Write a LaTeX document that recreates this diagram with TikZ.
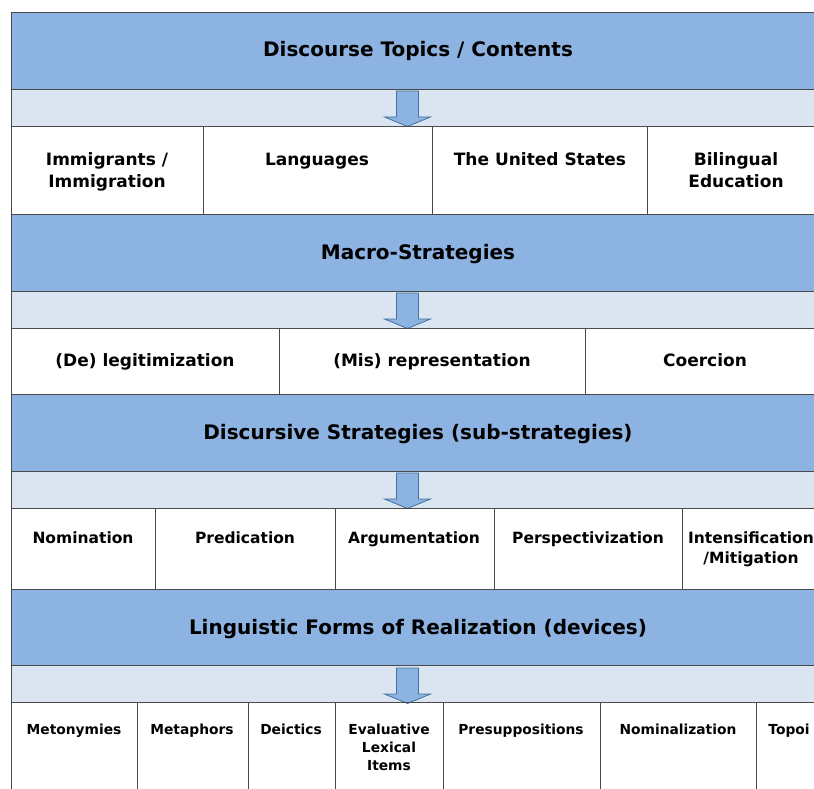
\documentclass[tikz,border=0pt]{standalone}
\usepackage{fontspec}
\setmainfont{DejaVu Sans}
\usepackage{xcolor}

\definecolor{bandblue}{HTML}{8DB3E2}
\definecolor{paleblue}{HTML}{DBE5F1}
\definecolor{rulegray}{HTML}{4A4A4A}
\definecolor{arrowedge}{HTML}{41719C}

\tikzset{
  rule/.style={draw=rulegray, line width=0.8pt},
  head/.style={font=\bfseries\fontsize{20}{24}\selectfont, anchor=base, inner sep=0pt},
  cell/.style={font=\bfseries\fontsize{17}{22}\selectfont, align=center, anchor=north,
    inner sep=0pt},
  blockarrow/.pic={
    \draw[arrowedge, fill=bandblue, line width=0.8pt, line join=miter]
      (-11,2) -- (11,2) -- (11,28) -- (23,28) -- (0,37.5) -- (-23,28) -- (-11,28) -- cycle;
  },
}

\begin{document}
\begin{tikzpicture}[x=1pt,y=-1pt]
  \useasboundingbox (0,0) rectangle (814,789);
  \clip (0,0) rectangle (814,789);

  % the four stages: blue band, pale gap with its arrow
  \foreach \t/\title [count=\i] in {12/{Discourse Topics / Contents},
      214/Macro-Strategies, 394/{Discursive Strategies (sub-strategies)},
      589/{Linguistic Forms of Realization (devices)}}{
    \fill[bandblue] (11,\t) rectangle (825,{\t+77});
    \fill[paleblue] (11,{\t+77}) rectangle (825,{\t+114});
    \node[head] (stage\i) at (418,{\t+45}) {\title};
    \pic at (407.5,{\t+77}) {blockarrow};
  }

  % horizontal rules and left edge
  \foreach \y in {12,89,126,214,291,328,394,471,508,589,665,702}
    \draw[rule] (11,\y) -- (825,\y);
  \draw[rule] (11,12) -- (11,789);

  % topics
  \foreach \x in {203,432,647}
    \draw[rule] (\x,126) -- (\x,214);
  \foreach \x/\txt [count=\j] in {107/{Immigrants /\\Immigration}, 317/Languages,
      540/The United States, 736/{Bilingual\\Education}}
    \node[cell] (topic\j) at (\x,149.6) {\strut\txt};

  % macro-strategies
  \foreach \x in {279,585}
    \draw[rule] (\x,328) -- (\x,394);
  \foreach \x/\txt [count=\j] in {145/(De) legitimization, 432/(Mis) representation,
      705/Coercion}
    \node[cell] (macro\j) at (\x,350.6) {\strut\txt};

  % discursive strategies
  \foreach \x in {155,335,494,682}
    \draw[rule] (\x,508) -- (\x,589);
  \begin{scope}[cell/.append style={font=\bfseries\fontsize{15.5}{20}\selectfont}]
  \foreach \x/\txt [count=\j] in {83/Nomination, 245/Predication, 414/Argumentation,
      588/Perspectivization, 751/{Intensification\\/Mitigation}}
    \node[cell] (strat\j) at (\x,529) {\strut\txt};
  \end{scope}

  % linguistic devices
  \foreach \x in {137,248,335,443,600,756}
    \draw[rule] (\x,702) -- (\x,789);
  \begin{scope}[cell/.append style={font=\bfseries\fontsize{13.8}{18}\selectfont}]
  \foreach \x/\txt [count=\j] in {74/Metonymies, 192/Metaphors, 291/Deictics,
      389/{Evaluative\\Lexical\\Items}, 521/Presuppositions, 678/Nominalization, 789/Topoi}
    \node[cell] (device\j) at (\x,721.4) {\strut\txt};
  \end{scope}
\end{tikzpicture}
\end{document}
